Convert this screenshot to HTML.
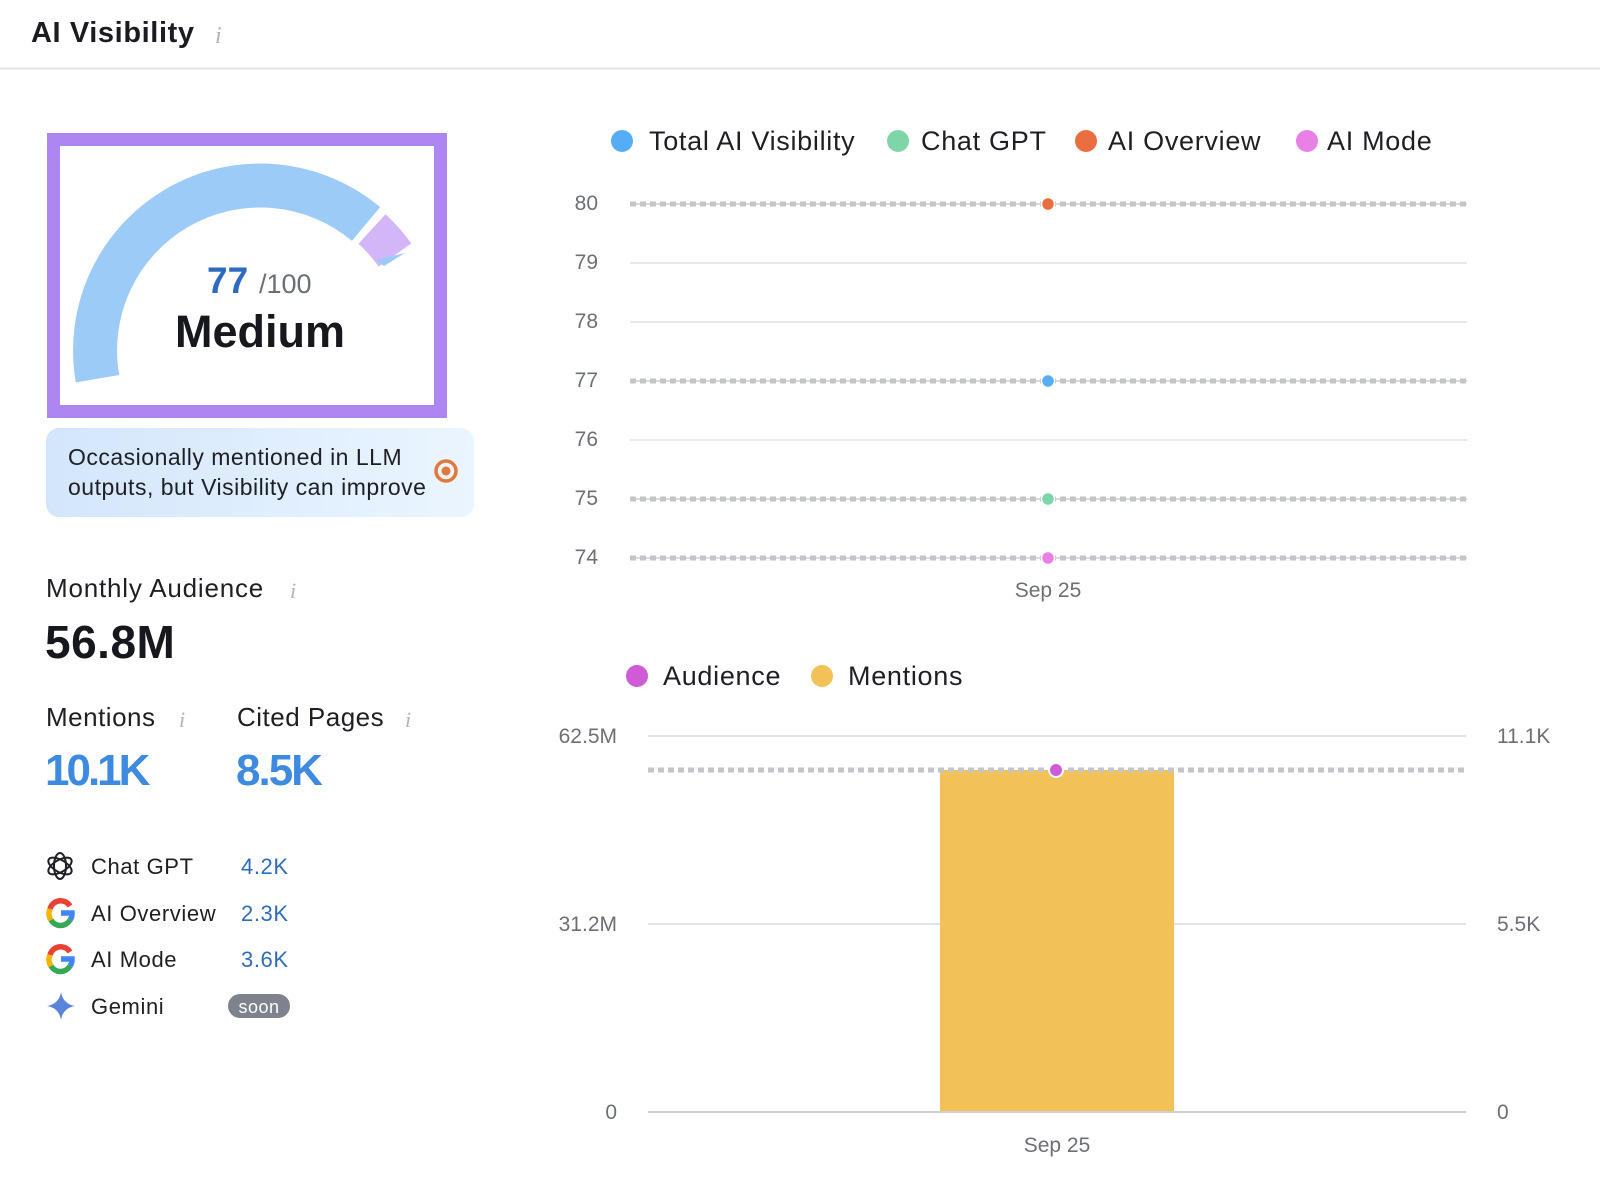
<!DOCTYPE html>
<html><head><meta charset="utf-8"><style>
html,body{margin:0;padding:0;background:#fff;}
svg{display:block;font-family:"Liberation Sans",sans-serif;}
</style></head><body>
<svg width="1600" height="1203" viewBox="0 0 1600 1203" xmlns="http://www.w3.org/2000/svg">
<rect width="1600" height="1203" fill="#fff"/>
<!-- header -->
<text x="31" y="42" font-size="29" font-weight="bold" fill="#1b1c22" letter-spacing="0.6">AI Visibility</text>
<text x="215" y="43" font-size="24" font-style="italic" font-family="Liberation Serif,serif" fill="#b0b3b8">i</text>
<line x1="0" y1="68.5" x2="1600" y2="68.5" stroke="#e2e3e6" stroke-width="2"/>

<!-- gauge box -->
<rect x="53.5" y="139.5" width="387" height="272" fill="#fff" stroke="#ae86f2" stroke-width="13"/>
<path d="M97.5 378.7 A165 165 0 0 1 366 224" fill="none" stroke="#9ccbf7" stroke-width="44"/>
<path d="M372 229 A165 165 0 0 1 395 255" fill="none" stroke="#d2b6f7" stroke-width="40"/>
<path d="M376 260 L405 253 L384 266 Z" fill="#9ccbf7"/>
<text x="207" y="293" font-size="37" font-weight="bold" fill="#2e6ac0">77</text>
<text x="259" y="293" font-size="27" fill="#6b6e75">/100</text>
<text x="260" y="347" font-size="45" font-weight="bold" fill="#17181d" text-anchor="middle">Medium</text>

<!-- callout -->
<defs><linearGradient id="cg" x1="0" x2="1" y1="0" y2="0"><stop offset="0" stop-color="#d3e6fb"/><stop offset="1" stop-color="#ebf5ff"/></linearGradient></defs>
<rect x="46" y="428" width="428" height="89" rx="13" fill="url(#cg)"/>
<text x="68" y="465" font-size="23" fill="#1e1f24" letter-spacing="0.5">Occasionally mentioned in LLM</text>
<text x="68" y="495" font-size="23" fill="#1e1f24" letter-spacing="0.5">outputs, but Visibility can improve</text>
<circle cx="446" cy="471" r="10" fill="none" stroke="#e0793a" stroke-width="3.5"/>
<circle cx="446" cy="471" r="4.5" fill="#e0793a"/>

<!-- stats -->
<text x="46" y="597" font-size="26" fill="#1e1f24" letter-spacing="0.8">Monthly Audience</text>
<text x="290" y="598" font-size="22" font-style="italic" font-family="Liberation Serif,serif" fill="#b0b3b8">i</text>
<text x="45" y="658" font-size="46" font-weight="bold" fill="#17181d" letter-spacing="0.5">56.8M</text>
<text x="46" y="726" font-size="26" fill="#1e1f24" letter-spacing="0.5">Mentions</text>
<text x="179" y="727" font-size="22" font-style="italic" font-family="Liberation Serif,serif" fill="#b0b3b8">i</text>
<text x="237" y="726" font-size="26" fill="#1e1f24" letter-spacing="0.5">Cited Pages</text>
<text x="405" y="727" font-size="22" font-style="italic" font-family="Liberation Serif,serif" fill="#b0b3b8">i</text>
<text x="45" y="785" font-size="44" font-weight="bold" fill="#3d8ae0" letter-spacing="-3">10.1K</text>
<text x="236" y="785" font-size="44" font-weight="bold" fill="#3d8ae0" letter-spacing="-2">8.5K</text>

<!-- list -->
<g fill="none" stroke="#1e1f24" stroke-width="2">
<ellipse cx="60" cy="866" rx="6" ry="13"/>
<ellipse cx="60" cy="866" rx="6" ry="13" transform="rotate(60 60 866)"/>
<ellipse cx="60" cy="866" rx="6" ry="13" transform="rotate(120 60 866)"/>
</g>
<g font-size="22" letter-spacing="0.6">
<text x="91" y="874" fill="#1e1f24">Chat GPT</text>
<text x="241" y="874" fill="#2f6db8">4.2K</text>
<text x="91" y="921" fill="#1e1f24">AI Overview</text>
<text x="241" y="921" fill="#2f6db8">2.3K</text>
<text x="91" y="967" fill="#1e1f24">AI Mode</text>
<text x="241" y="967" fill="#2f6db8">3.6K</text>
<text x="91" y="1014" fill="#1e1f24">Gemini</text>
</g>
<g fill="none" stroke-width="5.5">
<path d="M70 906 A11 11 0 0 0 50 909" stroke="#e94235"/>
<path d="M50 909 A11 11 0 0 0 51 920" stroke="#f5b400"/>
<path d="M51 920 A11 11 0 0 0 70 920" stroke="#34a853"/>
<path d="M70 920 A11 11 0 0 0 72 913 L61 913" stroke="#4285f4"/>
<path d="M70 952 A11 11 0 0 0 50 955" stroke="#e94235"/>
<path d="M50 955 A11 11 0 0 0 51 966" stroke="#f5b400"/>
<path d="M51 966 A11 11 0 0 0 70 966" stroke="#34a853"/>
<path d="M70 966 A11 11 0 0 0 72 959 L61 959" stroke="#4285f4"/>
</g>
<path d="M61 992 Q63 1004 75 1006 Q63 1008 61 1020 Q59 1008 47 1006 Q59 1004 61 992 Z" fill="#5a84dc"/>
<rect x="228" y="994" width="62" height="24" rx="12" fill="#7d828c"/>
<text x="259" y="1013" font-size="18" fill="#fff" text-anchor="middle" letter-spacing="0.5">soon</text>

<!-- chart 1 legend -->
<g font-size="27" fill="#1e1f24" letter-spacing="0.7">
<circle cx="622" cy="141" r="11" fill="#55aef5"/><text x="649" y="150">Total AI Visibility</text>
<circle cx="898" cy="141" r="11" fill="#7ed6a8"/><text x="921" y="150">Chat GPT</text>
<circle cx="1086" cy="141" r="11" fill="#ea6e3f"/><text x="1108" y="150">AI Overview</text>
<circle cx="1307" cy="141" r="11" fill="#e880e6"/><text x="1327" y="150">AI Mode</text>
</g>
<g font-size="21" fill="#6c6f76" text-anchor="end">
<text x="598" y="210">80</text><text x="598" y="269">79</text><text x="598" y="328">78</text>
<text x="598" y="387">77</text><text x="598" y="446">76</text><text x="598" y="505">75</text><text x="598" y="564">74</text>
</g>
<g stroke="#e7e8ea" stroke-width="2">
<line x1="630" y1="263" x2="1467" y2="263"/><line x1="630" y1="322" x2="1467" y2="322"/><line x1="630" y1="440" x2="1467" y2="440"/>
</g>
<g stroke="#d0d1d3" stroke-width="1.5">
<line x1="630" y1="204" x2="1467" y2="204"/><line x1="630" y1="381" x2="1467" y2="381"/><line x1="630" y1="499" x2="1467" y2="499"/><line x1="630" y1="558" x2="1467" y2="558"/>
</g>
<g stroke="#c4c5c8" stroke-width="5" stroke-dasharray="6 4">
<line x1="630" y1="204" x2="1467" y2="204"/><line x1="630" y1="381" x2="1467" y2="381"/><line x1="630" y1="499" x2="1467" y2="499"/><line x1="630" y1="558" x2="1467" y2="558"/>
</g>
<g stroke="#fff" stroke-width="1.5">
<circle cx="1048" cy="204" r="6.5" fill="#ea6e3f"/><circle cx="1048" cy="381" r="6.5" fill="#55aef5"/>
<circle cx="1048" cy="499" r="6.5" fill="#7ed6a8"/><circle cx="1048" cy="558" r="6.5" fill="#e880e6"/>
</g>
<text x="1048" y="597" font-size="21" fill="#6c6f76" text-anchor="middle">Sep 25</text>

<!-- chart 2 -->
<g font-size="27" fill="#1e1f24" letter-spacing="0.7">
<circle cx="637" cy="676" r="11" fill="#cf5bd6"/><text x="663" y="685">Audience</text>
<circle cx="822" cy="676" r="11" fill="#f2c157"/><text x="848" y="685">Mentions</text>
</g>
<g stroke="#e2e3e5" stroke-width="2">
<line x1="648" y1="736" x2="1466" y2="736"/><line x1="648" y1="924" x2="1466" y2="924"/>
</g>
<line x1="648" y1="1112" x2="1466" y2="1112" stroke="#cfd0d3" stroke-width="2"/>
<g font-size="21" fill="#6c6f76">
<text x="617" y="743" text-anchor="end">62.5M</text><text x="617" y="931" text-anchor="end">31.2M</text><text x="617" y="1119" text-anchor="end">0</text>
<text x="1497" y="743">11.1K</text><text x="1497" y="931">5.5K</text><text x="1497" y="1119">0</text>
</g>
<rect x="940" y="770" width="234" height="341" fill="#f2c157"/>
<line x1="648" y1="770" x2="1466" y2="770" stroke="#c4c5c8" stroke-width="5" stroke-dasharray="6 4"/>
<circle cx="1056" cy="770" r="7" fill="#cf5bd6" stroke="#fff" stroke-width="2"/>
<text x="1057" y="1152" font-size="21" fill="#6c6f76" text-anchor="middle">Sep 25</text>
</svg>
</body></html>
